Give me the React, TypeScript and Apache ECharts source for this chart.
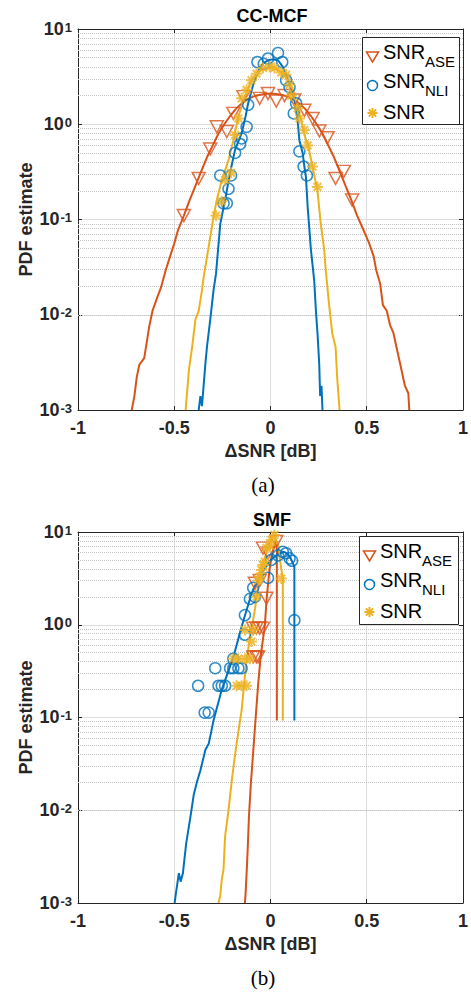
import React, { useEffect, useRef } from 'react';
import * as echarts from 'echarts';

// ---------- data: CC-MCF (a) ----------
const mcfAseLine: [number, number][] = [
  [-0.721, 0.001], [-0.707, 0.0014], [-0.695, 0.0022], [-0.681, 0.003], [-0.656, 0.0035], [-0.63, 0.0075],
  [-0.613, 0.011], [-0.587, 0.0155], [-0.57, 0.019], [-0.544, 0.0295], [-0.52, 0.042], [-0.5, 0.056],
  [-0.48, 0.078], [-0.45, 0.11], [-0.42, 0.16], [-0.39, 0.225], [-0.36, 0.32], [-0.33, 0.45], [-0.3, 0.6],
  [-0.27, 0.8], [-0.24, 1.0], [-0.21, 1.22], [-0.18, 1.45], [-0.15, 1.65], [-0.12, 1.82], [-0.09, 1.95],
  [-0.06, 2.03], [-0.03, 2.08], [0, 2.1], [0.03, 2.08], [0.06, 2.03], [0.09, 1.95], [0.12, 1.82], [0.15, 1.65],
  [0.18, 1.45], [0.21, 1.22], [0.24, 1.0], [0.27, 0.8], [0.3, 0.6], [0.33, 0.45], [0.36, 0.32], [0.39, 0.225],
  [0.42, 0.16], [0.45, 0.11], [0.48, 0.08], [0.51, 0.058], [0.536, 0.041], [0.549, 0.0295], [0.57, 0.021],
  [0.584, 0.0126], [0.604, 0.011], [0.621, 0.0078], [0.638, 0.0065], [0.655, 0.0045], [0.673, 0.0031],
  [0.698, 0.0018], [0.716, 0.0015], [0.721, 0.001],
];
const mcfAseMarks: [number, number][] = [
  [-0.45, 0.11], [-0.373, 0.27], [-0.313, 0.55], [-0.279, 0.94], [-0.227, 0.84], [-0.193, 1.3], [-0.141, 1.95],
  [-0.056, 1.87], [-0.013, 2.1], [0.03, 1.75], [0.073, 2.0], [0.124, 1.8], [0.176, 1.4], [0.219, 1.15],
  [0.254, 0.85], [0.296, 0.72], [0.338, 0.27], [0.381, 0.32], [0.424, 0.16],
];
const mcfNliLine: [number, number][] = [
  [-0.373, 0.001], [-0.364, 0.0014], [-0.356, 0.0011], [-0.338, 0.0031], [-0.33, 0.0046], [-0.313, 0.0089],
  [-0.296, 0.018], [-0.283, 0.027], [-0.261, 0.09], [-0.236, 0.16], [-0.21, 0.31], [-0.184, 0.54], [-0.15, 0.8],
  [-0.13, 1.2], [-0.116, 1.66], [-0.09, 2.6], [-0.064, 3.6], [-0.04, 4.3], [-0.013, 4.7], [0.01, 4.8],
  [0.039, 4.7], [0.064, 4.0], [0.08, 3.3], [0.099, 2.6], [0.124, 1.8], [0.141, 1.1], [0.15, 0.68], [0.167, 0.5],
  [0.176, 0.36], [0.184, 0.28], [0.193, 0.136], [0.21, 0.048], [0.227, 0.023], [0.236, 0.011], [0.245, 0.006],
  [0.253, 0.0031], [0.258, 0.0014], [0.265, 0.0018], [0.27, 0.001],
];
const mcfNliMarks: [number, number][] = [
  [-0.261, 0.29], [-0.244, 0.148], [-0.227, 0.148], [-0.218, 0.21], [-0.205, 0.29], [-0.184, 0.5], [-0.158, 0.62],
  [-0.15, 0.71], [-0.124, 0.94], [-0.116, 1.6], [-0.068, 4.5], [-0.035, 4.3], [-0.013, 4.9], [0.039, 5.6],
  [0.061, 4.5], [0.081, 2.9], [0.099, 2.45], [0.121, 1.3], [0.133, 1.66], [0.15, 0.52], [0.172, 0.36], [0.189, 0.29],
];
const mcfSnrLine: [number, number][] = [
  [-0.441, 0.001], [-0.424, 0.0026], [-0.407, 0.0046], [-0.39, 0.0089], [-0.373, 0.011], [-0.356, 0.018],
  [-0.347, 0.025], [-0.321, 0.052], [-0.296, 0.107], [-0.279, 0.16], [-0.253, 0.26], [-0.218, 0.42],
  [-0.193, 0.68], [-0.167, 1.2], [-0.133, 1.95], [-0.099, 2.9], [-0.07, 3.4], [-0.04, 3.8], [0.004, 4.0],
  [0.03, 3.8], [0.056, 3.5], [0.09, 2.9], [0.116, 2.3], [0.141, 1.5], [0.159, 1.1], [0.184, 0.68], [0.193, 0.63],
  [0.218, 0.36], [0.244, 0.2], [0.261, 0.091], [0.279, 0.048], [0.287, 0.0295], [0.304, 0.013], [0.321, 0.0063],
  [0.338, 0.0046], [0.347, 0.0021], [0.359, 0.001],
];
const mcfSnrMarks: [number, number][] = [
  [-0.283, 0.11], [-0.253, 0.155], [-0.236, 0.26], [-0.205, 0.31], [-0.184, 0.77], [-0.167, 1.15], [-0.15, 1.87],
  [-0.124, 2.3], [-0.099, 2.9], [-0.073, 3.4], [-0.039, 3.9], [-0.004, 4.0], [0.021, 3.9], [0.056, 3.5],
  [0.081, 3.3], [0.099, 2.6], [0.107, 2.0], [0.141, 1.47], [0.15, 1.15], [0.176, 0.87], [0.193, 0.6],
  [0.218, 0.36], [0.244, 0.22],
];

// ---------- data: SMF (b) ----------
const smfAseLine: [number, number][] = [
  [-0.133, 0.001], [-0.13, 0.0012], [-0.124, 0.0021], [-0.118, 0.004], [-0.112, 0.0085], [-0.102, 0.0195],
  [-0.09, 0.042], [-0.077, 0.1], [-0.064, 0.23], [-0.05, 0.48], [-0.03, 0.95], [-0.02, 1.9], [-0.005, 4.0],
  [0.01, 6.0], [0.025, 7.8], [0.033, 8.0], [0.033, 0.093],
];
const smfAseMarks: [number, number][] = [
  [-0.09, 0.92], [-0.073, 0.92], [-0.056, 0.92], [-0.039, 0.92], [-0.09, 0.45], [-0.073, 0.45], [-0.064, 0.45],
  [-0.081, 2.8], [-0.056, 3.0], [-0.021, 1.93], [-0.039, 6.7], [-0.013, 5.9], [0.03, 7.9],
];
const smfNliLine: [number, number][] = [
  [-0.498, 0.001], [-0.493, 0.0012], [-0.476, 0.0021], [-0.467, 0.0017], [-0.455, 0.0021], [-0.438, 0.0044],
  [-0.416, 0.0085], [-0.398, 0.015], [-0.381, 0.0205], [-0.364, 0.027], [-0.338, 0.045], [-0.321, 0.052],
  [-0.296, 0.093], [-0.253, 0.2], [-0.193, 0.45], [-0.15, 0.95], [-0.133, 1.25], [-0.11, 1.8], [-0.09, 2.4],
  [-0.05, 3.5], [-0.02, 4.3], [0.0, 5.0], [0.04, 5.8], [0.07, 6.1], [0.09, 5.8], [0.105, 5.2], [0.118, 4.5],
  [0.124, 4.2], [0.124, 0.093],
];
const smfNliMarks: [number, number][] = [
  [0.004, 5.0], [0.039, 5.6], [0.064, 6.1], [0.081, 5.9], [0.099, 5.2], [0.112, 4.9], [-0.013, 3.2], [-0.09, 2.5],
  [-0.107, 1.9], [-0.081, 2.0], [-0.133, 1.27], [0.124, 1.12], [-0.133, 0.78], [-0.193, 0.43], [-0.287, 0.34],
  [-0.21, 0.34], [-0.193, 0.34], [-0.167, 0.34], [-0.15, 0.34], [-0.376, 0.22], [-0.27, 0.22], [-0.253, 0.22],
  [-0.236, 0.22], [-0.342, 0.113], [-0.321, 0.113],
];
const smfSnrLine: [number, number][] = [
  [-0.27, 0.001], [-0.261, 0.0012], [-0.253, 0.0018], [-0.244, 0.0023], [-0.236, 0.0052], [-0.218, 0.01],
  [-0.201, 0.021], [-0.184, 0.04], [-0.167, 0.07], [-0.15, 0.12], [-0.135, 0.25], [-0.124, 0.42], [-0.11, 0.65],
  [-0.099, 0.88], [-0.08, 1.5], [-0.064, 2.6], [-0.047, 3.9], [-0.03, 5.2], [-0.01, 7.0], [0.005, 8.5],
  [0.02, 9.3], [0.04, 7.0], [0.056, 4.0], [0.064, 3.2], [0.064, 0.093],
];
const smfSnrMarks: [number, number][] = [
  [0.021, 9.3], [0.004, 8.2], [-0.004, 7.2], [-0.021, 6.7], [-0.03, 4.8], [-0.039, 4.4], [-0.047, 3.9],
  [-0.056, 3.3], [-0.064, 3.0], [-0.073, 2.0], [0.056, 3.15], [-0.133, 0.88], [-0.09, 0.88], [-0.099, 0.66],
  [-0.193, 0.43], [-0.167, 0.43], [-0.133, 0.43], [-0.107, 0.43], [-0.176, 0.22], [-0.15, 0.22], [-0.124, 0.22],
];

const legendMain = ['SNR', 'SNR', 'SNR'];
const legendSub = ['ASE', 'NLI', ''];
const panelTitles = ['CC-MCF', 'SMF'];
const panelCaptions = ['(a)', '(b)'];
const xTitle = 'ΔSNR [dB]';
const yTitle = 'PDF estimate';
const minorGrid = [
  0.002, 0.003, 0.004, 0.005, 0.006, 0.007, 0.008, 0.009,
  0.02, 0.03, 0.04, 0.05, 0.06, 0.07, 0.08, 0.09,
  0.2, 0.3, 0.4, 0.5, 0.6, 0.7, 0.8, 0.9,
  2, 3, 4, 5, 6, 7, 8, 9,
];

const panels = [
  { ase: mcfAseLine, aseM: mcfAseMarks, nli: mcfNliLine, nliM: mcfNliMarks, snr: mcfSnrLine, snrM: mcfSnrMarks },
  { ase: smfAseLine, aseM: smfAseMarks, nli: smfNliLine, nliM: smfNliMarks, snr: smfSnrLine, snrM: smfSnrMarks },
];

const C_ASE = '#D95319';
const C_NLI = '#0072BD';
const C_SNR = '#EDB120';
const AX = '#262626';
const FONT = '"Liberation Sans", Arial, Helvetica, sans-serif';
const SERIF = '"Liberation Serif", "Times New Roman", serif';
const ASTERISK = 'path://M5 0L5 10M0 5L10 5M1.5 1.5L8.5 8.5M1.5 8.5L8.5 1.5';
const TRI_DOWN = 'path://M0 0L10 0L5 8.66Z';

const layout = [
  { top: 29, height: 381, box: [362, 37, 97, 87], titleTop: 7, captionY: 485 },
  { top: 532, height: 371, box: [359, 536, 99, 88], titleTop: 511, captionY: 978 },
];

function legendGraphic(box: number[]) {
  const [bx, by, bw, bh] = box;
  const els: any[] = [];
  els.push({
    type: 'rect', silent: true, z: 50,
    shape: { x: bx + 0.5, y: by + 0.5, width: bw, height: bh },
    style: { fill: '#fff', stroke: AX, lineWidth: 1 },
  });
  const mx = bx + 10.5;
  const rows = [by + 14.5, by + 43.5, by + 75];
  els.push({
    type: 'polygon', silent: true, z: 51,
    shape: { points: [[mx - 6, rows[0] + 0.5], [mx + 6, rows[0] + 0.5], [mx, rows[0] + 10.5]] },
    style: { fill: 'none', stroke: C_ASE, lineWidth: 1.5 },
  });
  els.push({
    type: 'circle', silent: true, z: 51,
    shape: { cx: mx, cy: rows[1] + 5, r: 5 },
    style: { fill: 'none', stroke: C_NLI, lineWidth: 1.5 },
  });
  const ay = rows[2] + 1;
  const r = 5;
  const d = 3.6;
  [[0, -r, 0, r], [-r, 0, r, 0], [-d, -d, d, d], [-d, d, d, -d]].forEach((s) => {
    els.push({
      type: 'line', silent: true, z: 51,
      shape: { x1: mx + s[0], y1: ay + s[1], x2: mx + s[2], y2: ay + s[3] },
      style: { stroke: C_SNR, lineWidth: 2 },
    });
  });
  rows.forEach((ry, i) => {
    els.push({
      type: 'text', silent: true, z: 52, x: bx + 21, y: ry,
      style: { text: legendMain[i], fontFamily: FONT, fontSize: 20, fill: '#000', align: 'left', verticalAlign: 'middle' },
    });
    if (legendSub[i]) {
      els.push({
        type: 'text', silent: true, z: 52, x: bx + 63, y: ry + 9.5,
        style: { text: legendSub[i], fontFamily: FONT, fontSize: 15, fill: '#000', align: 'left', verticalAlign: 'middle' },
      });
    }
  });
  return els;
}

function buildOption() {
  const grid: any[] = [];
  const xAxis: any[] = [];
  const yAxis: any[] = [];
  const series: any[] = [];
  const title: any[] = [];
  const graphic: any[] = [];

  layout.forEach((L, p) => {
    grid.push({ left: 78, top: L.top, width: 389, height: L.height, containLabel: false });
    const tick = { show: true, inside: true, length: 4, lineStyle: { color: AX, width: 1 } };
    const line = { show: true, onZero: false, lineStyle: { color: AX, width: 1 } };
    xAxis.push({
      type: 'value', gridIndex: p, min: -1, max: 1, interval: 0.5, position: 'bottom',
      name: xTitle, nameLocation: 'middle', nameGap: 32, nameMoveOverlap: false,
      nameTextStyle: { fontFamily: FONT, fontSize: 18, fontWeight: 'bold', color: AX },
      axisLine: line, axisTick: tick,
      axisLabel: { margin: 9, fontFamily: FONT, fontSize: 18, fontWeight: 'bold', color: AX, formatter: (v: number) => String(v) },
      splitLine: { show: true, lineStyle: { color: '#dedede', width: 1 } },
    });
    xAxis.push({
      type: 'value', gridIndex: p, min: -1, max: 1, interval: 0.5, position: 'top',
      axisLine: line, axisTick: tick, axisLabel: { show: false }, splitLine: { show: false },
    });
    yAxis.push({
      type: 'log', logBase: 10, gridIndex: p, min: 0.001, max: 10, position: 'left',
      name: yTitle, nameLocation: 'middle', nameGap: 43, nameMoveOverlap: false,
      nameTextStyle: { fontFamily: FONT, fontSize: 18, fontWeight: 'bold', color: AX },
      axisLine: line, axisTick: tick,
      axisLabel: {
        margin: 6,
        formatter: (v: number) => `{b|10}{s|${Math.round(Math.log10(v))}}`,
        rich: {
          b: { fontFamily: FONT, fontSize: 18, fontWeight: 'bold', color: AX, lineHeight: 17, verticalAlign: 'bottom' },
          s: { fontFamily: FONT, fontSize: 13, fontWeight: 'bold', color: AX, lineHeight: 15, verticalAlign: 'top', padding: [0, 0, 10, 1] },
        },
      },
      splitLine: { show: true, lineStyle: { color: '#dedede', width: 1 } },
    });
    yAxis.push({
      type: 'log', logBase: 10, gridIndex: p, min: 0.001, max: 10, position: 'right',
      axisLine: line, axisTick: tick, axisLabel: { show: false }, splitLine: { show: false },
    });

    const xi = 2 * p;
    const yi = 2 * p;
    const d = panels[p];
    series.push({
      name: 'minor-grid-' + p, type: 'line', xAxisIndex: xi, yAxisIndex: yi, data: [], silent: true,
      markLine: {
        silent: true, z: 1, symbol: ['none', 'none'], label: { show: false },
        lineStyle: { type: 'dotted', color: '#c4c4c4', width: 1 },
        emphasis: { disabled: true },
        data: minorGrid.map((v) => ({ yAxis: v })),
      },
    });
    const mkLine = (name: string, data: [number, number][], color: string) => ({
      name, type: 'line', xAxisIndex: xi, yAxisIndex: yi, data, showSymbol: false, symbol: 'none',
      lineStyle: { color, width: 2 }, itemStyle: { color }, silent: true, z: 3,
    });
    series.push(mkLine('ASE curve ' + p, d.ase, C_ASE));
    series.push({
      name: 'SNR_ASE', type: 'scatter', xAxisIndex: xi, yAxisIndex: yi, data: d.aseM,
      symbol: TRI_DOWN, symbolSize: [13, 12], z: 4,
      itemStyle: { color: 'rgba(0,0,0,0)', borderColor: C_ASE, borderWidth: 1.5 },
    });
    series.push(mkLine('NLI curve ' + p, d.nli, C_NLI));
    series.push({
      name: 'SNR_NLI', type: 'scatter', xAxisIndex: xi, yAxisIndex: yi, data: d.nliM,
      symbol: 'circle', symbolSize: 11, z: 4,
      itemStyle: { color: 'rgba(0,0,0,0)', borderColor: C_NLI, borderWidth: 1.5 },
    });
    series.push(mkLine('SNR curve ' + p, d.snr, C_SNR));
    series.push({
      name: 'SNR', type: 'scatter', xAxisIndex: xi, yAxisIndex: yi, data: d.snrM,
      symbol: ASTERISK, symbolSize: 11, z: 4,
      itemStyle: { color: 'rgba(0,0,0,0)', borderColor: C_SNR, borderWidth: 2 },
    });

    graphic.push(...legendGraphic(L.box));
    title.push({
      text: panelTitles[p], left: 272, top: L.titleTop, textAlign: 'center', padding: 0,
      textStyle: { fontFamily: FONT, fontSize: 18, fontWeight: 'bold', color: '#000' },
    });
    graphic.push({
      type: 'text', x: 263, y: L.captionY, silent: true,
      style: { text: panelCaptions[p], fontFamily: SERIF, fontSize: 21, fill: '#000', align: 'center', verticalAlign: 'middle' },
    });
  });

  return { animation: false, backgroundColor: '#fff', grid, xAxis, yAxis, series, title, graphic };
}

export default function App() {
  const ref = useRef<HTMLDivElement>(null);
  useEffect(() => {
    if (!ref.current) return;
    const chart = echarts.init(ref.current, undefined, { renderer: 'svg' });
    chart.setOption(buildOption() as any);
    return () => chart.dispose();
  }, []);
  return (
    <div
      ref={ref}
      style={{ position: 'absolute', left: 0, top: 0, width: 471, height: 992, background: '#fff' }}
    />
  );
}
